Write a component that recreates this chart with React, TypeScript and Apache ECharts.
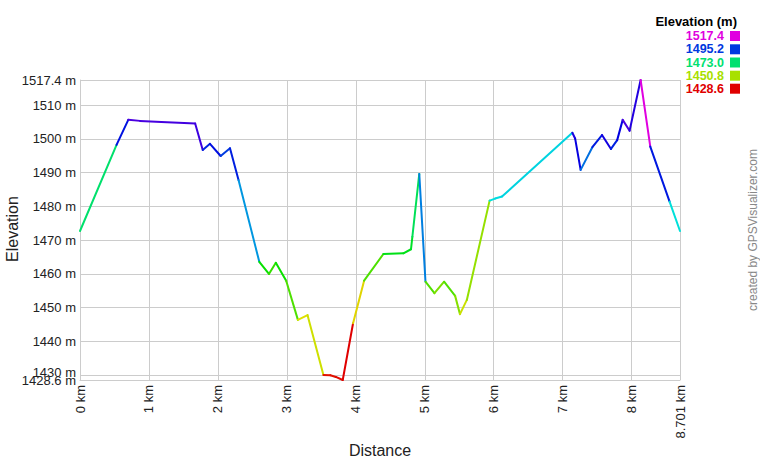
import React, { useEffect, useRef } from "react";
import * as echarts from "echarts";

const distancesKm = [0, 0.53, 0.70, 0.87, 1.18, 1.51, 1.67, 1.78, 1.885, 2.04, 2.175, 2.30, 2.60, 2.74, 2.84, 2.99, 3.16, 3.30, 3.53, 3.63, 3.71, 3.81, 3.96, 4.12, 4.40, 4.69, 4.80, 4.82, 4.92, 5.01, 5.14, 5.28, 5.44, 5.51, 5.61, 5.94, 6.02, 6.12, 7.14, 7.18, 7.26, 7.43, 7.57, 7.70, 7.79, 7.87, 7.97, 8.13, 8.27, 8.55, 8.701];
const elevationsM = [1472.7, 1498.2, 1505.6, 1505.3, 1505.0, 1504.7, 1504.5, 1496.7, 1498.5, 1494.9, 1497.2, 1487.7, 1463.6, 1460.0, 1463.3, 1458.0, 1446.4, 1447.8, 1430.1, 1430.0, 1429.5, 1428.6, 1445.4, 1458.0, 1465.9, 1466.1, 1467.3, 1471.0, 1489.6, 1457.7, 1454.3, 1457.7, 1453.5, 1448.1, 1452.3, 1481.7, 1482.3, 1482.9, 1501.8, 1500.1, 1490.8, 1497.5, 1501.1, 1497.0, 1499.6, 1505.6, 1502.4, 1517.4, 1497.7, 1481.4, 1472.7];

const xTicks = [0, 1, 2, 3, 4, 5, 6, 7, 8, 8.701];
const yTicks = [1428.6, 1430, 1440, 1450, 1460, 1470, 1480, 1490, 1500, 1510, 1517.4];
const yMinTick = [1428.6];
const legendValues = [1517.4, 1495.2, 1473.0, 1450.8, 1428.6];

const E_MIN = 1428.6;
const E_MAX = 1517.4;

function elevColor(e: number): string {
  const t = Math.max(0, Math.min(1, (e - E_MIN) / (E_MAX - E_MIN)));
  const h = t * 300;
  const v = 224;
  const f = (n: number) => {
    const k = (n + h / 60) % 6;
    return Math.round(v - v * Math.max(0, Math.min(k, 4 - k, 1)));
  };
  return `rgb(${f(5)},${f(3)},${f(1)})`;
}

const FONT = "'Liberation Sans', Arial, sans-serif";
const fmtElev = (v: number) => `${Number.isInteger(v) ? v : v.toFixed(1)} m`;

export default function App() {
  const ref = useRef<HTMLDivElement>(null);
  useEffect(() => {
    if (!ref.current) return;
    const chart = echarts.init(ref.current, undefined, { renderer: "svg" });
    const segments: number[][] = [];
    for (let i = 0; i < distancesKm.length - 1; i++) {
      segments.push([distancesKm[i], elevationsM[i], distancesKm[i + 1], elevationsM[i + 1]]);
    }
    const legendY = [36, 49.3, 62.5, 75.7, 88.7];
    const graphics: any[] = [
      {
        type: "text",
        x: 737,
        y: 21,
        style: { text: "Elevation (m)", font: `bold 13px ${FONT}`, fill: "#000", align: "right", verticalAlign: "middle" },
      },
    ];
    legendValues.forEach((v, i) => {
      graphics.push({
        type: "text",
        x: 724,
        y: legendY[i],
        style: { text: v.toFixed(1), font: `bold 12.5px ${FONT}`, lineHeight: 12, fill: elevColor(v), align: "right", verticalAlign: "middle" },
      });
      graphics.push({
        type: "rect",
        shape: { x: 730, y: legendY[i] - 5, width: 10, height: 10 },
        style: { fill: elevColor(v) },
      });
    });
    graphics.push({
      type: "text",
      x: 753,
      y: 230,
      rotation: Math.PI / 2,
      style: { text: "created by GPSVisualizer.com", font: `12px ${FONT}`, fill: "#888", align: "center", verticalAlign: "middle" },
    });
    graphics.push({
      type: "text",
      x: 12,
      y: 229,
      rotation: Math.PI / 2,
      style: { text: "Elevation", font: `16px ${FONT}`, fill: "#222", align: "center", verticalAlign: "middle" },
    });
    graphics.push({
      type: "text",
      x: 380,
      y: 450,
      style: { text: "Distance", font: `16px ${FONT}`, fill: "#222", align: "center", verticalAlign: "middle" },
    });

    const labelCommon = { fontFamily: FONT, fontSize: 13, color: "#222" };

    chart.setOption({
      animation: false,
      backgroundColor: "#fff",
      grid: { left: 80, right: 80, top: 80, bottom: 80, outerBoundsMode: "none" },
      xAxis: {
        type: "value",
        min: 0,
        max: 8.701,
        axisLine: { show: true, lineStyle: { color: "#ccc" } },
        axisTick: { show: false, customValues: xTicks },
        splitLine: { show: true, lineStyle: { color: "#ccc", width: 1 } },
        axisLabel: {
          ...labelCommon,
          customValues: xTicks,
          rotate: 90,
          margin: 5,
          hideOverlap: false,
          showMinLabel: true,
          showMaxLabel: true,
          formatter: (v: number) => `${v} km`,
        },
      },
      yAxis: [
        {
          type: "value",
          min: E_MIN,
          max: E_MAX,
          position: "left",
          axisLine: { show: true, lineStyle: { color: "#ccc" } },
          axisTick: { show: false, customValues: yTicks },
          splitLine: { show: true, lineStyle: { color: "#ccc", width: 1 } },
          axisLabel: {
            ...labelCommon,
            customValues: yTicks.filter((v) => v !== E_MIN),
            margin: 4,
            hideOverlap: false,
            showMinLabel: true,
            showMaxLabel: true,
            formatter: (v: number) => (v === 1430 ? `{up|${fmtElev(v)}}` : fmtElev(v)),
            rich: { up: { ...labelCommon, padding: [0, 0, 5, 0] } },
          },
        },
        {
          type: "value",
          min: E_MIN,
          max: E_MAX,
          position: "left",
          offset: 0,
          axisLine: { show: false },
          axisTick: { show: false, customValues: yMinTick },
          splitLine: { show: false },
          axisLabel: {
            ...labelCommon,
            customValues: yMinTick,
            margin: 4,
            showMinLabel: true,
            showMaxLabel: true,
            formatter: (v: number) => fmtElev(v),
          },
        },
      ],
      series: [
        {
          type: "custom",
          clip: false,
          xAxisIndex: 0,
          yAxisIndex: 0,
          encode: { x: [0, 2], y: [1, 3] },
          data: segments,
          renderItem: (params: any, api: any) => {
            const p0 = api.coord([api.value(0), api.value(1)]);
            const p1 = api.coord([api.value(2), api.value(3)]);
            return {
              type: "line",
              shape: { x1: p0[0], y1: p0[1], x2: p1[0], y2: p1[1] },
              style: { stroke: elevColor(api.value(1)), lineWidth: 2, lineCap: "round" },
            };
          },
        },
      ],
      graphic: graphics,
    });
    return () => chart.dispose();
  }, []);
  return <div ref={ref} style={{ position: "fixed", left: 0, top: 0, width: 760, height: 460 }} />;
}
